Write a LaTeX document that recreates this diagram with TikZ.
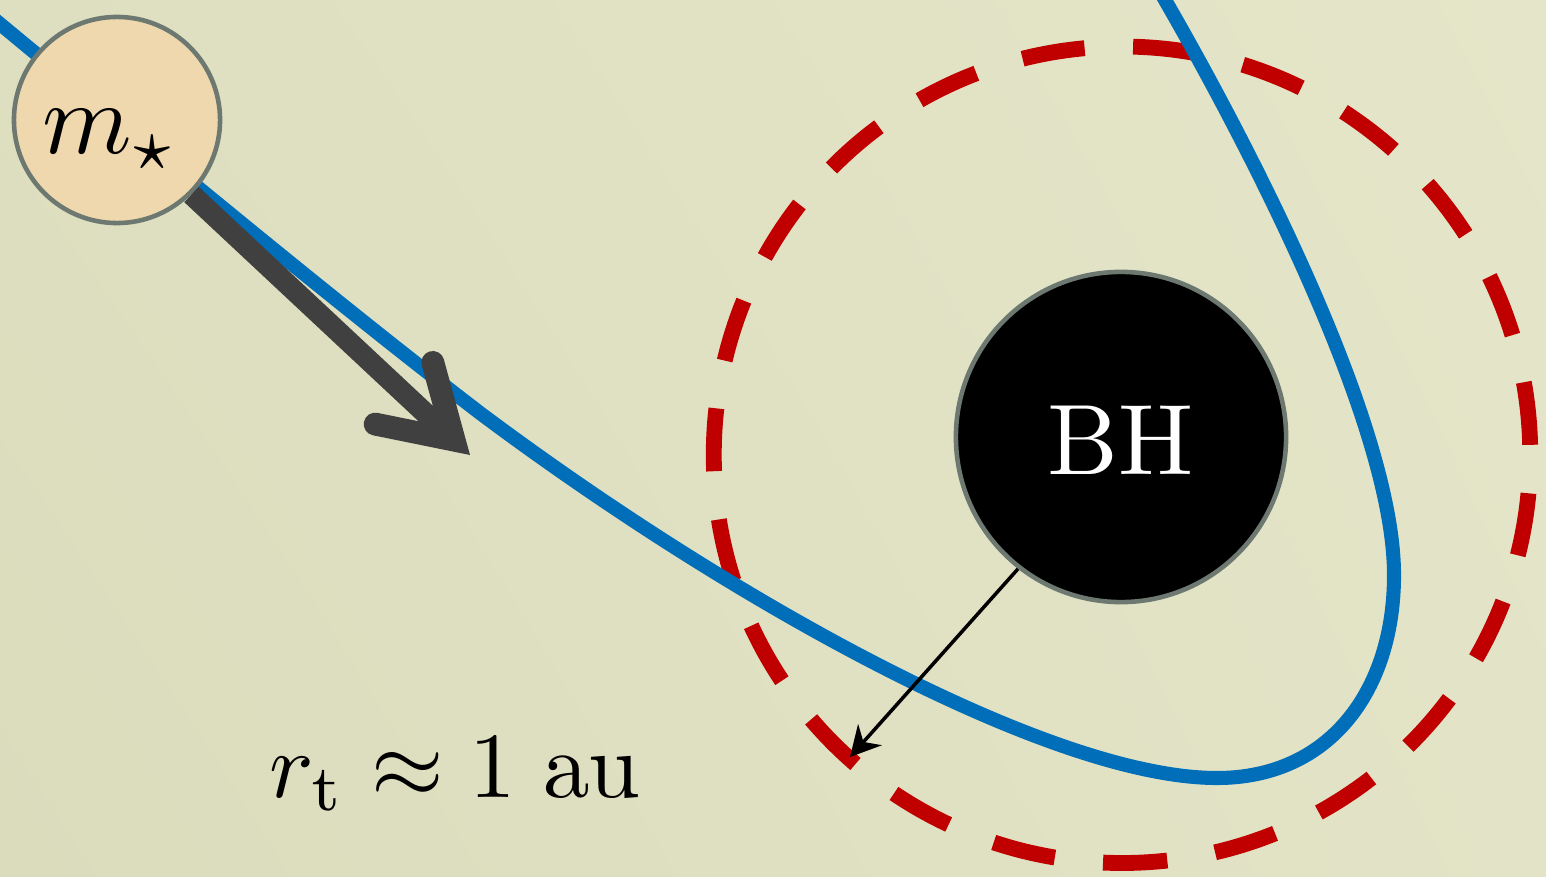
\documentclass[tikz,border=0pt]{standalone}
\usetikzlibrary{arrows.meta, shadings}
\definecolor{bgul}{RGB}{222,223,192}
\definecolor{bgur}{RGB}{229,230,201}
\definecolor{bgll}{RGB}{219,220,188}
\definecolor{bglr}{RGB}{227,228,199}
\definecolor{orbitblue}{RGB}{0,110,185}
\definecolor{tidalred}{RGB}{192,0,0}
\definecolor{velgray}{RGB}{64,64,64}
\definecolor{ringgray}{RGB}{108,120,112}
\definecolor{starfill}{RGB}{239,216,173}
\tikzset{
  ring/.style={circle, draw=ringgray, line width=1.3pt, inner sep=0pt},
  starnode/.style={ring, fill=starfill, minimum size=2.06cm},
  bhnode/.style={ring, fill=black, minimum size=3.3cm},
  bigtext/.style={inner sep=0pt, scale=#1},
  tidal/.style={draw=tidalred, line width=4.5pt, dash pattern=on 17.9pt off 13.8pt, dash phase=5pt},
  orbit/.style={draw=orbitblue, line width=4pt},
  velarrow/.style={draw=velgray, line width=6pt, -{Straight Barb[length=19.5pt, width=24pt, line width=6.5pt, line cap=round, line join=miter]}},
  radarrow/.style={line width=1pt, -{Stealth[length=8.5pt, width=9pt]}}
}
\begin{document}
\begin{tikzpicture}[x=0.01cm, y=-0.01cm]
  \useasboundingbox (0,0) rectangle (1546,876);
  \shade[upper left=bgul, upper right=bgur, lower left=bgll, lower right=bglr] (0,0) rectangle (1546,876);
  % tidal radius
  \draw[tidal] (1122,863) arc[start angle=-90, end angle=270, radius=4.08cm];
  % orbit of the star
  \draw[orbit] (-12,14) .. controls (150,148) and (330,298) .. (480,413)
    .. controls (730,600) and (1050,778) .. (1217,778)
    .. controls (1330,778) and (1394,690) .. (1394,575)
    .. controls (1394,420) and (1240,130) .. (1165,0) -- (1156,-16);
  \node[bhnode] (bh) at (1121,437) {};
  \node[bigtext=2.85, text=white] (bhlabel) at (1121,440) {BH};
  \coordinate (rtip) at (850,757);
  \draw[radarrow] (bh.232) -- (rtip);
  \node[starnode] (mstar) at (117,120) {};
  \coordinate (vtip) at (470,455);
  \draw[velarrow] (mstar.south east) -- (vtip);
  \node[bigtext=2.9, anchor=base west] (mlabel) at (40,154) {$m_\star$};
  \node[bigtext=2.65, anchor=base west] (rlabel) at (268,797) {$r_{\mathrm{t}} \approx 1\;\mathrm{au}$};
\end{tikzpicture}
\end{document}
